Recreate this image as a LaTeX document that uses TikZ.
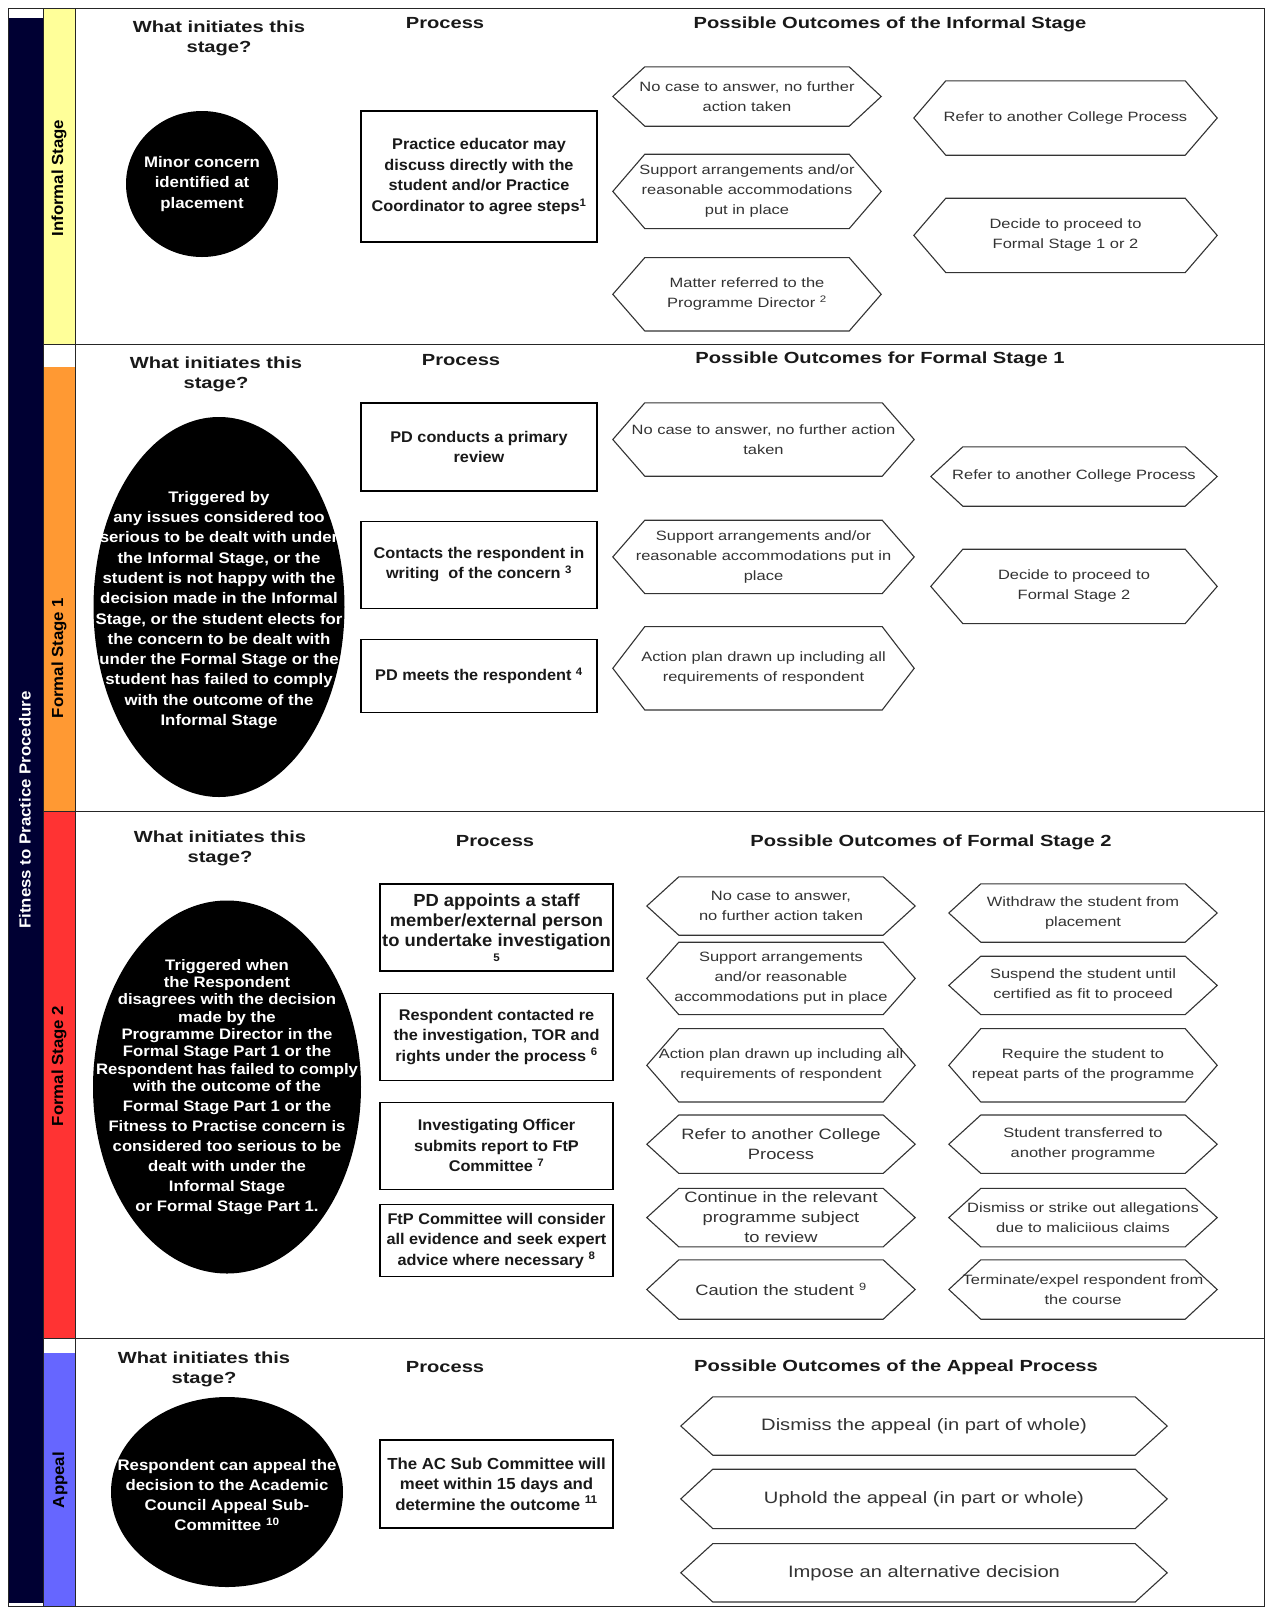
\documentclass[tikz,border=0pt]{standalone}
\usepackage{fontspec}
\setmainfont{Liberation Sans}
\newfontfamily\headfam{Liberation Sans}[FakeStretch=1.25]
\newfontfamily\hexfam{Liberation Sans}[FakeStretch=1.22]
\newfontfamily\procfam{Liberation Sans}[FakeStretch=1.05]
\newfontfamily\blobfam{Liberation Sans}[FakeStretch=1.1]
\newfontfamily\sidefam{Liberation Sans}[FakeStretch=1.05]
\usetikzlibrary{positioning,shapes.geometric}
\definecolor{ftpnavy}{RGB}{0,0,51}
\definecolor{paleyellow}{RGB}{255,255,153}
\definecolor{stageorange}{RGB}{255,153,51}
\definecolor{stagered}{RGB}{255,51,51}
\definecolor{stageblue}{RGB}{102,102,255}
\definecolor{hexgrey}{RGB}{51,51,51}

\begin{document}
\begin{tikzpicture}[x=1pt,y=-1pt]
\tikzset{
  heading/.style={inner sep=0pt,align=center,text=black!90,
                  font={\headfam\bfseries\fontsize{16.1}{20}\selectfont}},
  blob/.style={ellipse,fill=black,inner sep=0pt},
  blobtext/.style={inner sep=0pt,align=center,text=white,
               font={\blobfam\bfseries\fontsize{15.3}{20.3}\selectfont}},
  procbox/.style={draw=black,line width=1.2pt,inner sep=0pt,align=center,text=black!90,
                  font={\procfam\bfseries\fontsize{15.5}{20.5}\selectfont}},
  outcome/.style 2 args={minimum width=#1,minimum height=#2,inner sep=0pt,
                  align=center,text=hexgrey,font={\hexfam\fontsize{13.5}{20}\selectfont},
                  append after command={\pgfextra{\draw[draw=hexgrey,line width=1.1pt]
                    (\tikzlastnode.west) -- ([xshift=32pt]\tikzlastnode.north west)
                    -- ([xshift=-32pt]\tikzlastnode.north east) -- (\tikzlastnode.east)
                    -- ([xshift=-32pt]\tikzlastnode.south east)
                    -- ([xshift=32pt]\tikzlastnode.south west) -- cycle;}}},
  bighex/.style={font={\hexfam\fontsize{15}{20}\selectfont}},
  appealhex/.style={font={\hexfam\fontsize{16.5}{20}\selectfont}},
  sidelabel/.style={rotate=90,inner sep=0pt,text=black,
                    font={\sidefam\bfseries\fontsize{16}{18}\selectfont}},
  frameline/.style={draw=black!85,line width=1pt}
}
\fill[white] (0,0) rectangle (1268,1610);
\useasboundingbox (0,0) rectangle (1268,1610);
\fill[ftpnavy] (8,18) rectangle (43,1603);
\fill[paleyellow] (43,8) rectangle (75,344);
\fill[stageorange] (43,367) rectangle (75,811);
\fill[stagered] (43,811) rectangle (75,1338);
\fill[stageblue] (43,1353) rectangle (75,1606);
\draw[frameline] (8,8) rectangle (1264,1606);
\draw[frameline] (43,8) -- (43,1606) (75,8) -- (75,1606);
\draw[frameline] (43,344) -- (1264,344) (43,811) -- (1264,811) (43,1338) -- (1264,1338);

\node[sidelabel,text=white] (ftp) at (25,810) {Fitness to Practice Procedure};
\node[sidelabel] (lab-inf) at (59,178) {Informal Stage};
\node[sidelabel] (lab-fs1) at (59,658) {Formal Stage 1};
\node[sidelabel] (lab-fs2) at (59,1066) {Formal Stage 2};
\node[sidelabel] (lab-app) at (60,1480) {Appeal};

\node[heading] (inf-init) at (219,38) {What initiates this\\stage?};
\node[heading] (inf-proc) at (445,23) {Process};
\node[heading] (inf-out) at (890,24) {Possible Outcomes of the Informal Stage};
\node[blob,minimum width=152pt,minimum height=146pt] (inf-blob) at (202,184) {};
\node[blobtext] (inf-blobtxt) at (inf-blob) {Minor concern\\identified at\\placement};
\node[procbox,minimum width=236pt,minimum height=131pt] (inf-box) at (479,176.5)
  {Practice educator may\\discuss directly with the\\student and/or Practice\\Coordinator to agree steps\textsuperscript{1}};
\node[outcome={268pt}{59pt}] (inf-none) at (747,96.5) {No case to answer, no further\\action taken};
\node[outcome={268pt}{74pt},below=28pt of inf-none] (inf-support) {Support arrangements and/or\\reasonable accommodations\\put in place};
\node[outcome={268pt}{73pt},below=29pt of inf-support] (inf-pd) {Matter referred to the\\Programme Director \textsuperscript{2}};
\node[outcome={303pt}{74pt}] (inf-refer) at (1065.5,118) {Refer to another College Process};
\node[outcome={303pt}{74pt},below=43pt of inf-refer] (inf-next) {Decide to proceed to\\Formal Stage 1 or 2};

\node[heading] (fs1-init) at (216,374) {What initiates this\\stage?};
\node[heading] (fs1-proc) at (461,360) {Process};
\node[heading] (fs1-out) at (880,359) {Possible Outcomes for Formal Stage 1};
\node[blob,minimum width=251pt,minimum height=380pt] (fs1-blob) at (219,607) {};
\node[blobtext] (fs1-blobtxt) at (219,610)
  {Triggered by\\any issues considered too\\serious to be dealt with under\\the Informal Stage, or the\\student is not happy with the\\decision made in the Informal\\Stage, or the student elects for\\the concern to be dealt with\\under the Formal Stage or the\\student has failed to comply\\with the outcome of the\\Informal Stage};
\node[procbox,minimum width=236pt,minimum height=88pt] (fs1-review) at (479,447) {PD conducts a primary\\review};
\node[procbox,minimum width=236pt,minimum height=87pt,below=29pt of fs1-review] (fs1-contact) {Contacts the respondent in\\writing\ \ of the concern \textsuperscript{3}};
\node[procbox,minimum width=236pt,minimum height=73pt,below=30pt of fs1-contact] (fs1-meet) {PD meets the respondent \textsuperscript{4}};
\node[outcome={301pt}{73pt}] (fs1-none) at (763.5,439.5) {No case to answer, no further action\\taken};
\node[outcome={301pt}{73pt},below=44pt of fs1-none] (fs1-support) {Support arrangements and/or\\reasonable accommodations put in\\place};
\node[outcome={301pt}{83pt},below=33pt of fs1-support] (fs1-plan) {Action plan drawn up including all\\requirements of respondent};
\node[outcome={286pt}{59pt}] (fs1-refer) at (1074,476.5) {Refer to another College Process};
\node[outcome={286pt}{74pt},below=43pt of fs1-refer] (fs1-next) {Decide to proceed to\\Formal Stage 2};

\node[heading] (fs2-init) at (220,848) {What initiates this\\stage?};
\node[heading] (fs2-proc) at (495,841) {Process};
\node[heading] (fs2-out) at (931,842) {Possible Outcomes of Formal Stage 2};
\node[blob,minimum width=268pt,minimum height=373pt] (fs2-blob) at (227,1087) {};
\node[blobtext,font={\blobfam\bfseries\fontsize{15.2}{17.3}\selectfont}] (fs2-blobtxt) at (fs2-blob)
  {Triggered when\\the Respondent\\disagrees with the decision\\made by the\\Programme Director in the\\Formal Stage Part 1 or the\\Respondent has failed to comply\\with the outcome of the\\[2.7pt]Formal Stage Part 1 or the\\[2.7pt]Fitness to Practise concern is\\[2.7pt]considered too serious to be\\[2.7pt]dealt with under the\\[2.7pt]Informal Stage\\[2.7pt]or Formal Stage Part 1.};
\node[procbox,minimum width=233pt,minimum height=87pt,
      font={\procfam\bfseries\fontsize{17.5}{20}\selectfont}] (fs2-appoint) at (496.5,927.5)
  {PD appoints a staff\\member/external person\\to undertake investigation\\[-5pt]{\fontsize{11}{12}\selectfont 5}};
\node[procbox,minimum width=233pt,minimum height=87pt,below=21pt of fs2-appoint] (fs2-contact) {Respondent contacted re\\the investigation, TOR and\\rights under the process \textsuperscript{6}};
\node[procbox,minimum width=233pt,minimum height=87pt,below=21pt of fs2-contact] (fs2-report) {Investigating Officer\\submits report to FtP\\Committee \textsuperscript{7}};
\node[procbox,minimum width=233pt,minimum height=72pt,below=14pt of fs2-report] (fs2-consider) {FtP Committee will consider\\all evidence and seek expert\\advice where necessary \textsuperscript{8}};
\node[outcome={268pt}{58pt}] (fs2-none) at (781,906) {No case to answer,\\no further action taken};
\node[outcome={268pt}{72pt},below=7pt of fs2-none] (fs2-support) {Support arrangements\\and/or reasonable\\accommodations put in place};
\node[outcome={268pt}{73pt},below=14pt of fs2-support] (fs2-plan) {Action plan drawn up including all\\requirements of respondent};
\node[outcome={268pt}{58pt},bighex,below=13pt of fs2-plan] (fs2-refer) {Refer to another College\\Process};
\node[outcome={268pt}{58pt},bighex,below=15pt of fs2-refer] (fs2-continue) {Continue in the relevant\\programme subject\\to review};
\node[outcome={268pt}{59pt},bighex,below=13pt of fs2-continue] (fs2-caution) {Caution the student \textsuperscript{9}};
\node[outcome={268pt}{58pt}] (fs2-withdraw) at (1083,913) {Withdraw the student from\\placement};
\node[outcome={268pt}{58pt},below=14pt of fs2-withdraw] (fs2-suspend) {Suspend the student until\\certified as fit to proceed};
\node[outcome={268pt}{73pt},below=14pt of fs2-suspend] (fs2-repeat) {Require the student to\\repeat parts of the programme};
\node[outcome={268pt}{58pt},below=13pt of fs2-repeat] (fs2-transfer) {Student transferred to\\another programme};
\node[outcome={268pt}{58pt},below=15pt of fs2-transfer] (fs2-dismiss) {Dismiss or strike out allegations\\due to maliciious claims};
\node[outcome={268pt}{59pt},below=13pt of fs2-dismiss] (fs2-expel) {Terminate/expel respondent from\\the course};

\node[heading] (app-init) at (204,1369) {What initiates this\\stage?};
\node[heading] (app-proc) at (445,1367) {Process};
\node[heading] (app-out) at (896,1367) {Possible Outcomes of the Appeal Process};
\node[blob,minimum width=232pt,minimum height=190pt] (app-blob) at (227,1492) {};
\node[blobtext] (app-blobtxt) at (227,1495)
  {Respondent can appeal the\\decision to the Academic\\Council Appeal Sub-\\Committee \textsuperscript{10}};
\node[procbox,minimum width=233pt,minimum height=88pt,
      font={\procfam\bfseries\fontsize{16}{20.5}\selectfont}] (app-box) at (496.5,1484)
  {The AC Sub Committee will\\meet within 15 days and\\determine the outcome \textsuperscript{11}};
\node[outcome={486pt}{58pt},appealhex] (app-dismiss) at (924,1426) {Dismiss the appeal (in part of whole)};
\node[outcome={486pt}{59pt},appealhex,below=14pt of app-dismiss] (app-uphold) {Uphold the appeal (in part or whole)};
\node[outcome={486pt}{58pt},appealhex,below=15pt of app-uphold] (app-impose) {Impose an alternative decision};
\end{tikzpicture}
\end{document}
